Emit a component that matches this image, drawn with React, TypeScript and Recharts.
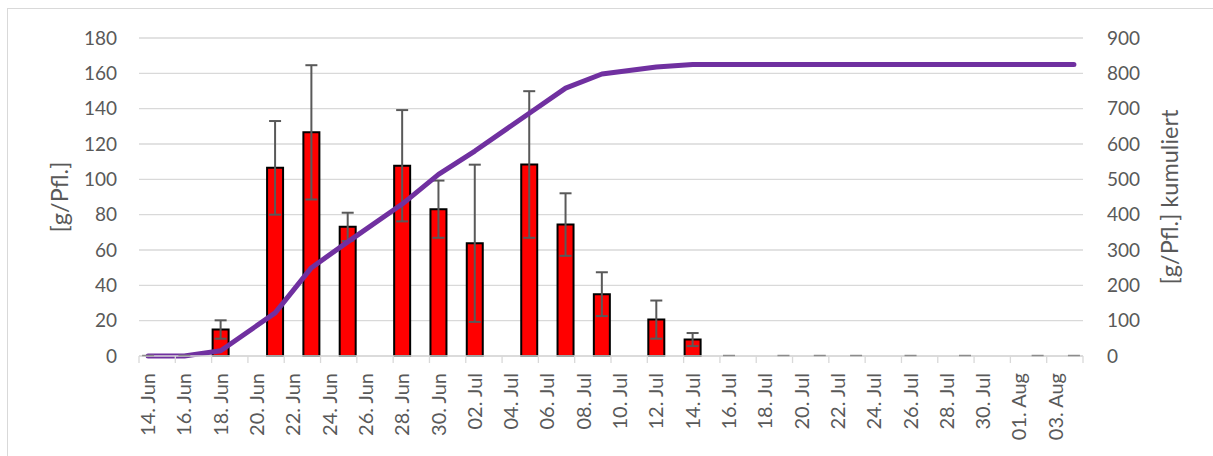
import { Bar, CartesianGrid, ComposedChart, ErrorBar, Line, Scatter, XAxis, YAxis } from 'recharts'

// sampling dates with yield per plant, its std deviation and the cumulative sum
const sampleDays = [
  '14. Jun', '16. Jun', '18. Jun', '21. Jun', '23. Jun', '25. Jun', '28. Jun', '30. Jun',
  '02. Jul', '05. Jul', '07. Jul', '09. Jul', '12. Jul', '14. Jul', '16. Jul', '19. Jul',
  '21. Jul', '23. Jul', '26. Jul', '29. Jul', '02. Aug', '04. Aug',
]
const yieldValues = [0, 0, 15, 106.5, 126.6, 73.1, 107.7, 83.1, 63.8, 108.4, 74.4, 35, 20.6, 9.3, 0, 0, 0, 0, 0, 0, 0, 0]
const yieldErrors = [0, 0, 5.2, 26.5, 38, 8, 31.5, 16.2, 44.5, 41.5, 17.7, 12.4, 10.8, 3.7, 0, 0, 0, 0, 0, 0, 0, 0]
const cumulative = [0, 0, 15, 122, 250, 323, 430, 514, 580, 687, 758, 798, 818, 825, 825, 825, 825, 825, 825, 825, 825, 825]

const leftTicks = [0, 20, 40, 60, 80, 100, 120, 140, 160, 180]
const rightTicks = [0, 100, 200, 300, 400, 500, 600, 700, 800, 900]

// daily category axis, 14. Jun .. 04. Aug
const months = [
  { name: 'Jun', from: 14, to: 30 },
  { name: 'Jul', from: 1, to: 31 },
  { name: 'Aug', from: 1, to: 4 },
]
const days: string[] = []
months.forEach(m => {
  for (let d = m.from; d <= m.to; d++) days.push(`${String(d).padStart(2, '0')}. ${m.name}`)
})

const data = days.map(day => {
  const i = sampleDays.indexOf(day)
  if (i < 0) return { day, value: null, err: null, cum: null, zero: null }
  const v = yieldValues[i]
  return {
    day,
    value: v,
    err: [yieldErrors[i], yieldErrors[i]],
    cum: cumulative[i],
    // empty harvests still show their (zero) error cap on the baseline
    zero: v === 0 ? 0 : null,
  }
})

const W = 1213
const H = 456
const PLOT_LEFT = 139
const PLOT_RIGHT = 130
const PLOT_W = W - PLOT_LEFT - PLOT_RIGHT
const STEP = PLOT_W / days.length

const TEXT = '#595959'
const GRID = '#d9d9d9'
const FONT = 'Lato, "Liberation Sans", sans-serif'

function DayTick({ x, y, payload }: any) {
  return (
    <g>
      <line x1={x - STEP / 2} x2={x - STEP / 2} y1={y} y2={y + 7} stroke={GRID} strokeWidth={1.3} />
      {payload.index === days.length - 2 ? (
        <line x1={x + STEP * 1.5} x2={x + STEP * 1.5} y1={y} y2={y + 7} stroke={GRID} strokeWidth={1.3} />
      ) : null}
      <text
        transform={`translate(${x},${y + 17}) rotate(-90)`}
        textAnchor="end"
        dy="0.35em"
        fill={TEXT}
        fontSize={20}
        fontFamily={FONT}
      >
        {payload.value}
      </text>
    </g>
  )
}

function AxisTitle(text: string, cx: number) {
  return ({ viewBox }: any) => {
    const cy = viewBox.y + viewBox.height / 2
    return (
      <text
        transform={`translate(${cx},${cy}) rotate(-90)`}
        textAnchor="middle"
        dy="0.35em"
        fill={TEXT}
        fontSize={23.5}
        fontFamily={FONT}
      >
        {text}
      </text>
    )
  }
}

function ZeroCap({ cx, cy }: any) {
  if (cx == null || cy == null) return null
  return <line x1={cx - 6} x2={cx + 6} y1={cy - 0.5} y2={cy - 0.5} stroke="#8c8c8c" strokeWidth={1.5} />
}

export default function App() {
  return (
    <div style={{ position: 'absolute', left: 0, top: 0, width: W, height: H, background: '#fff', overflow: 'hidden' }}>
      <div
        style={{
          position: 'absolute',
          left: 7,
          top: 8,
          width: W + 40,
          height: H + 40,
          border: `1px solid ${GRID}`,
          boxSizing: 'border-box',
        }}
      />
      <div style={{ position: 'absolute', left: 0, top: 0 }}>
        <ComposedChart
          width={W}
          height={H}
          data={data}
          margin={{ top: 38, right: 0, bottom: 0, left: 0 }}
          barCategoryGap={0}
          barGap={0}
        >
          <CartesianGrid vertical={false} stroke={GRID} strokeWidth={1.3} yAxisId="left" />
          <XAxis
            dataKey="day"
            interval={1}
            height={100}
            axisLine={{ stroke: GRID, strokeWidth: 1.3 }}
            tickLine={false}
            tickSize={0}
            tickMargin={0}
            tick={<DayTick />}
          />
          <YAxis
            yAxisId="left"
            width={PLOT_LEFT}
            domain={[0, 180]}
            ticks={leftTicks}
            axisLine={false}
            tickLine={false}
            tickSize={0}
            tickMargin={22}
            tick={{ fill: TEXT, fontSize: 19, fontFamily: FONT }}
            label={{ content: AxisTitle('[g/Pfl.]', 60) }}
          />
          <YAxis
            yAxisId="right"
            orientation="right"
            width={PLOT_RIGHT}
            domain={[0, 900]}
            ticks={rightTicks}
            axisLine={false}
            tickLine={false}
            tickSize={0}
            tickMargin={24}
            tick={{ fill: TEXT, fontSize: 19, fontFamily: FONT, textAnchor: 'start' }}
            label={{ content: AxisTitle('[g/Pfl.] kumuliert', 1170) }}
          />
          <Bar
            yAxisId="left"
            dataKey="value"
            fill="#ff0000"
            stroke="#000"
            strokeWidth={2}
            barSize={16}
            isAnimationActive={false}
          >
            <ErrorBar dataKey="err" width={6} stroke={TEXT} strokeWidth={2} direction="y" />
          </Bar>
          <Scatter yAxisId="left" dataKey="zero" shape={<ZeroCap />} isAnimationActive={false} />
          <Line
            yAxisId="right"
            type="linear"
            dataKey="cum"
            stroke="#7030a0"
            strokeWidth={5}
            strokeLinecap="round"
            strokeLinejoin="round"
            dot={false}
            activeDot={false}
            connectNulls
            isAnimationActive={false}
          />
        </ComposedChart>
      </div>
    </div>
  )
}
